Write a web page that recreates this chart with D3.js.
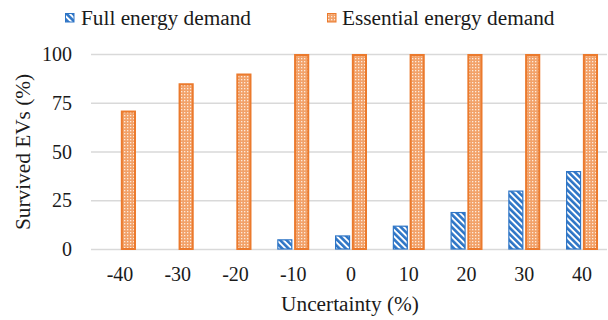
<!DOCTYPE html>
<html><head><meta charset="utf-8">
<script src="https://cdn.jsdelivr.net/npm/d3@7/dist/d3.min.js"></script>
</head>
<body style="margin:0">
<svg id="chart" width="608" height="320"></svg>
<script>
const categories = ["-40","-30","-20","-10","0","10","20","30","40"];
const seriesNames = ["Full energy demand","Essential energy demand"];
const fullDemand = [0,0,0,5,7,12,19,30,40];
const essentialDemand = [71,85,90,100,100,100,100,100,100];
const yTicks = [0,25,50,75,100];

const FONT = '"Liberation Serif"';
const svg = d3.select("#chart");
const defs = svg.append("defs");

// blue diagonal stripes
const pb = defs.append("pattern").attr("id","blueStripe").attr("patternUnits","userSpaceOnUse")
  .attr("width",4.5).attr("height",4.5).attr("patternTransform","rotate(-45)");
pb.append("rect").attr("width",4.5).attr("height",4.5).attr("fill","#ffffff");
pb.append("rect").attr("width",2.6).attr("height",4.5).attr("fill","#2e75c6");

// orange dotted grid
const po = defs.append("pattern").attr("id","orangeGrid").attr("patternUnits","userSpaceOnUse")
  .attr("width",3).attr("height",3);
po.append("rect").attr("width",3).attr("height",3).attr("fill","#f2a26a");
po.append("rect").attr("x",1).attr("y",1).attr("width",1.3).attr("height",1.3).attr("fill","#fdeadc");

const x = d3.scaleBand().domain(categories).range([91.1, 610.9]).paddingInner(0).paddingOuter(0);
const y = d3.scaleLinear().domain([0,100]).range([249, 54]);
const x1 = d3.scaleBand().domain(seriesNames).range([-16,16]).paddingInner(0.1);

// gridlines
svg.append("g").selectAll("line").data(yTicks).join("line")
  .attr("x1",91).attr("x2",607)
  .attr("y1",d=>y(d)+0.5).attr("y2",d=>y(d)+0.5)
  .attr("stroke","#d9d9d9").attr("stroke-width",1.3);

// y tick labels
yTicks.forEach(t=>{
  svg.append("text").attr("x",72).attr("y",y(t)+7)
    .attr("text-anchor","end").attr("font-size",20).attr("fill","#1a1a1a")
    .style("font-family",FONT).text(t);
});

// x tick labels
categories.forEach(c=>{
  svg.append("text").attr("x",x(c)+x.bandwidth()/2).attr("y",281)
    .attr("text-anchor","middle").attr("font-size",20).attr("fill","#1a1a1a")
    .style("font-family",FONT).text(c);
});

const styles = [
  {fill:"url(#blueStripe)", stroke:"#2e75c6", sw:1.2},
  {fill:"url(#orangeGrid)", stroke:"#eb7a2d", sw:2}
];
const seriesVals = [fullDemand, essentialDemand];

const g = svg.append("g");
categories.forEach((c,i)=>{
  const cx = x(c)+x.bandwidth()/2;
  seriesVals.forEach((arr,si)=>{
    const v = arr[i];
    if(v<=0) return;
    const s = styles[si];
    const bx = cx + x1(seriesNames[si]);
    g.append("rect")
      .attr("x",bx + s.sw/2).attr("y",y(v)+s.sw/2)
      .attr("width",x1.bandwidth()-s.sw).attr("height",y(0)-y(v)-s.sw/2)
      .attr("fill",s.fill).attr("stroke",s.stroke).attr("stroke-width",s.sw);
  });
});

// legend
const legendX = [65, 327];
seriesNames.forEach((n,i)=>{
  const s = styles[i];
  svg.append("rect").attr("x",legendX[i]+0.5).attr("y",13.5).attr("width",8.5).attr("height",8.5)
    .attr("fill",s.fill).attr("stroke",s.stroke).attr("stroke-width",1);
  svg.append("text").attr("x",legendX[i]+(i===0?16:15)).attr("y",25)
    .attr("font-size",21.3).attr("fill","#1a1a1a").style("font-family",FONT).text(n);
});

// axis titles
svg.append("text").attr("x",350).attr("y",311).attr("text-anchor","middle")
  .attr("font-size",21.3).attr("fill","#1a1a1a").style("font-family",FONT).text("Uncertainty (%)");
svg.append("text").attr("transform","translate(30,152) rotate(-90)").attr("text-anchor","middle")
  .attr("font-size",21.3).attr("fill","#1a1a1a").style("font-family",FONT).text("Survived EVs (%)");
</script>
</body></html>
